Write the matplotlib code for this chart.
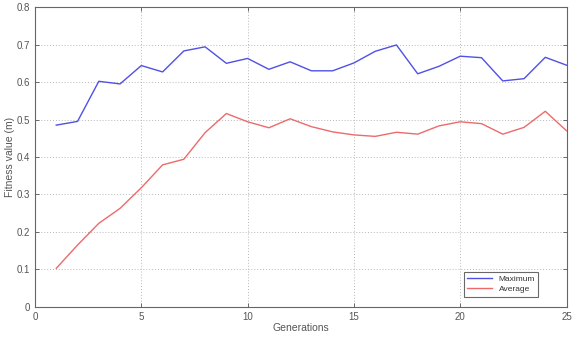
import matplotlib
matplotlib.use("Agg")
import matplotlib.pyplot as plt

plt.rcParams["font.family"] = ["Liberation Sans", "DejaVu Sans"]

# generations and fitness values
generations = list(range(1, 26))
maximum = [0.485, 0.495, 0.602, 0.595, 0.644, 0.627, 0.683, 0.694, 0.650, 0.663,
           0.634, 0.654, 0.630, 0.630, 0.651, 0.682, 0.699, 0.622, 0.642, 0.669,
           0.665, 0.603, 0.609, 0.666, 0.645]
average = [0.103, 0.165, 0.223, 0.263, 0.318, 0.379, 0.394, 0.465, 0.516, 0.494,
           0.478, 0.502, 0.481, 0.467, 0.459, 0.455, 0.466, 0.461, 0.483, 0.494,
           0.489, 0.461, 0.479, 0.522, 0.470]

grey = "#555555"
fig = plt.figure(figsize=(5.74, 3.38), dpi=100)
ax = fig.add_axes([0.061, 0.092, 0.926, 0.887])

ax.plot(generations, maximum, color="#5050e6", lw=1.0, label="Maximum")
ax.plot(generations, average, color="#ee6a6a", lw=1.0, label="Average")

ax.set_xlim(0, 25)
ax.set_ylim(0, 0.8)
ax.set_xticks([0, 5, 10, 15, 20, 25])
ax.set_yticks([0, 0.1, 0.2, 0.3, 0.4, 0.5, 0.6, 0.7, 0.8])
ax.set_yticklabels(["0", "0.1", "0.2", "0.3", "0.4", "0.5", "0.6", "0.7", "0.8"])
ax.grid(True, color="#b8b8b8", linestyle=(0, (1, 2)), lw=0.7)
ax.tick_params(direction="in", top=True, right=True, labelsize=7,
               colors=grey, length=3, width=0.6)
for s in ax.spines.values():
    s.set_color("#666666")
    s.set_linewidth(0.8)

ax.set_xlabel("Generations", fontsize=7.5, color=grey, labelpad=1)
ax.set_ylabel("Fitness value (m)", fontsize=7.5, color=grey, labelpad=1)

leg = ax.legend(loc="lower right", bbox_to_anchor=(0.955, 0.02), fontsize=6,
                frameon=True, fancybox=False, handlelength=3.0,
                borderpad=0.4, labelspacing=0.3)
leg.get_frame().set_edgecolor("#444444")
leg.get_frame().set_linewidth(0.8)
for t in leg.get_texts():
    t.set_color("#333333")

fig.savefig("out.png", dpi=100)
